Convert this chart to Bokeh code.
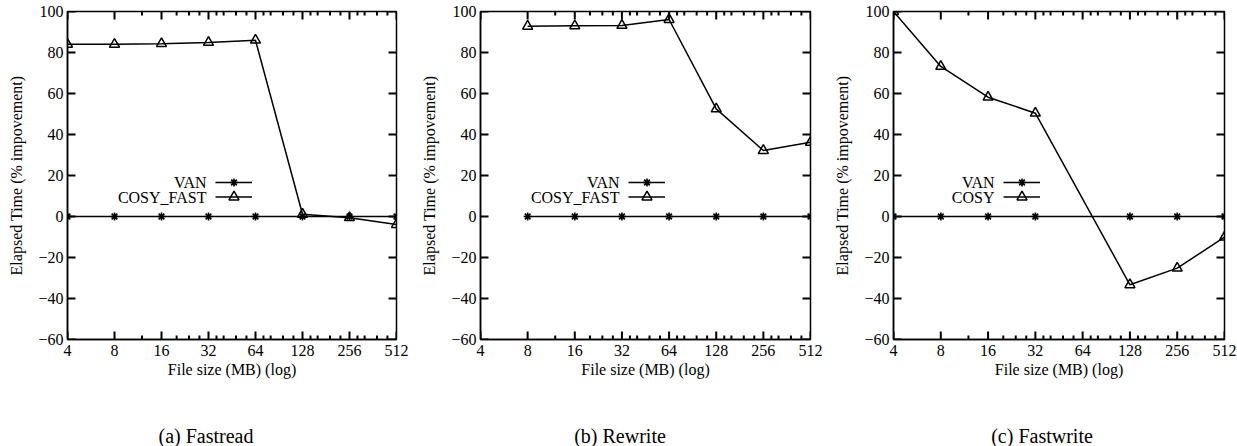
from bokeh.plotting import figure
from bokeh.models import (Range1d, FixedTicker, Legend, LegendItem, Label)
from bokeh.core.properties import value
from bokeh.layouts import row, column
from bokeh.embed import file_html
from bokeh.resources import INLINE

# ---------------- data ----------------
sizes_a = [4, 8, 16, 32, 64, 128, 256, 512]
van_a = [0, 0, 0, 0, 0, 0, 0, 0]
cosy_fast_a = [84.0, 84.0, 84.3, 84.9, 86.0, 1.1, -0.6, -3.9]

sizes_b = [8, 16, 32, 64, 128, 256, 512]
van_b = [0, 0, 0, 0, 0, 0, 0]
cosy_fast_b = [92.8, 93.0, 93.2, 96.1, 52.5, 32.2, 36.2]

sizes_c = [4, 8, 16, 32, 128, 256, 512]
van_c = [0, 0, 0, 0, 0, 0, 0]
cosy_c = [100.0, 73.2, 58.2, 50.4, -33.3, -25.2, -10.1]

x_ticks = [4, 8, 16, 32, 64, 128, 256, 512]
x_tick_labels = ["4", "8", "16", "32", "64", "128", "256", "512"]
x_minor_ticks = [12, 20, 24, 28, 36, 40, 48, 56, 72, 80, 96, 112,
                 144, 160, 192, 224, 288, 320, 384, 448]
y_ticks = [-60, -40, -20, 0, 20, 40, 60, 80, 100]
y_tick_labels = ["\u221260", "\u221240", "\u221220", "0", "20", "40", "60", "80", "100"]

captions = ["(a) Fastread", "(b) Rewrite", "(c) Fastwrite"]

X_MIN, X_MAX = 4, 512
Y_MIN, Y_MAX = -60, 100

x_title = "File size (MB) (log)"
y_title = "Elapsed Time (% impovement)"

FONT = "Liberation Serif"
FS = "16px"

FRAME_H = 328          # plot-area height in px
FRAME_W = 330          # plot-area width in px (approx.)
TICK_MAJOR = 8         # px
TICK_MINOR = 4         # px


def style_axis(ax):
    ax.axis_line_color = "black"
    ax.axis_line_width = 1.5
    ax.major_tick_line_color = None
    ax.minor_tick_line_color = None
    ax.major_tick_in = 0
    ax.major_tick_out = 0
    ax.minor_tick_in = 0
    ax.minor_tick_out = 0
    ax.major_label_text_font = FONT
    ax.major_label_text_font_size = FS
    ax.major_label_text_color = "black"
    ax.axis_label_text_font = FONT
    ax.axis_label_text_font_size = FS
    ax.axis_label_text_font_style = "normal"
    ax.axis_label_text_color = "black"


def make_panel(sizes, van, cosy, cosy_name, width, right_border, text_x, glyph_x):
    p = figure(width=width, height=400, x_axis_type="log",
               x_range=Range1d(X_MIN, X_MAX), y_range=Range1d(Y_MIN, Y_MAX),
               output_backend="svg", toolbar_location=None,
               min_border_left=67, min_border_right=right_border,
               min_border_top=11, min_border_bottom=61)
    p.grid.visible = False
    p.outline_line_color = "black"
    p.outline_line_width = 1.5
    p.background_fill_color = "white"
    p.border_fill_color = "white"

    xa = p.xaxis[0]
    xa.ticker = FixedTicker(ticks=x_ticks, minor_ticks=[])
    xa.major_label_overrides = dict(zip(x_ticks, x_tick_labels))
    style_axis(xa)
    xa.major_label_standoff = 5
    xa.axis_label = x_title
    xa.axis_label_standoff = 2

    ya = p.yaxis[0]
    ya.ticker = FixedTicker(ticks=y_ticks, minor_ticks=[])
    ya.major_label_overrides = dict(zip(y_ticks, y_tick_labels))
    style_axis(ya)
    ya.major_label_standoff = 4
    ya.axis_label = y_title
    ya.axis_label_standoff = 10

    # inward tick marks on all four borders (gnuplot style), lengths in px
    # converted to data units of this frame
    dy_maj = TICK_MAJOR * (Y_MAX - Y_MIN) / FRAME_H
    dy_min = TICK_MINOR * (Y_MAX - Y_MIN) / FRAME_H
    fx = (X_MAX / X_MIN) ** (TICK_MAJOR / FRAME_W)
    n_maj, n_min, n_y = len(x_ticks), len(x_minor_ticks), len(y_ticks)
    tk = dict(line_color="black", line_width=2)
    p.segment(x0=x_ticks, y0=[Y_MIN] * n_maj, x1=x_ticks,
              y1=[Y_MIN + dy_maj] * n_maj, **tk)
    p.segment(x0=x_ticks, y0=[Y_MAX] * n_maj, x1=x_ticks,
              y1=[Y_MAX - dy_maj] * n_maj, **tk)
    p.segment(x0=x_minor_ticks, y0=[Y_MIN] * n_min, x1=x_minor_ticks,
              y1=[Y_MIN + dy_min] * n_min, **tk)
    p.segment(x0=x_minor_ticks, y0=[Y_MAX] * n_min, x1=x_minor_ticks,
              y1=[Y_MAX - dy_min] * n_min, **tk)
    p.segment(x0=[X_MIN] * n_y, y0=y_ticks, x1=[X_MIN * fx] * n_y, y1=y_ticks, **tk)
    p.segment(x0=[X_MAX] * n_y, y0=y_ticks, x1=[X_MAX / fx] * n_y, y1=y_ticks, **tk)

    van_l = p.line(sizes, van, line_color="black", line_width=1.5)
    van_m = p.scatter(sizes, van, marker="asterisk", size=8,
                      line_color="black", line_width=1.6)
    cosy_l = p.line(sizes, cosy, line_color="black", line_width=1.5)
    cosy_m = p.scatter(sizes, cosy, marker="triangle", size=10,
                       line_color="black", line_width=1.5, fill_alpha=0)

    common = dict(glyph_width=37, label_width=0, label_standoff=0, padding=0,
                  margin=0, spacing=0, border_line_color=None,
                  background_fill_alpha=0, label_text_font_size="1px")
    leg1 = Legend(items=[LegendItem(label=value(" "), renderers=[van_l, van_m])],
                  location=(glyph_x, 147.5), glyph_height=20, label_height=20,
                  **common)
    leg2 = Legend(items=[LegendItem(label=value(" "), renderers=[cosy_l, cosy_m])],
                  location=(glyph_x, 130), glyph_height=25, label_height=25,
                  **common)
    p.add_layout(leg1)
    p.add_layout(leg2)

    for txt, yy in (("VAN", 157.5), (cosy_name, 142.5)):
        p.add_layout(Label(x=text_x, y=yy, x_units="screen", y_units="screen",
                           text=txt, text_align="right", text_baseline="middle",
                           text_font=FONT, text_font_size=FS,
                           text_color="black"))
    return p


pa = make_panel(sizes_a, van_a, cosy_fast_a, "COSY_FAST", 413, 17, 139, 148)
pb = make_panel(sizes_b, van_b, cosy_fast_b, "COSY_FAST", 413, 16, 139, 148)
pc = make_panel(sizes_c, van_c, cosy_c, "COSY", 411, 13, 101, 110)

# caption strip underneath the three panels
cap = figure(width=1237, height=46, x_axis_type=None, y_axis_type=None,
             x_range=Range1d(0, 1237), y_range=Range1d(0, 46),
             output_backend="svg", toolbar_location=None,
             min_border=0, outline_line_color=None)
cap.grid.visible = False
for cx, txt in zip((205.5, 619.5, 1041.5), captions):
    cap.add_layout(Label(x=cx, y=11, x_units="screen", y_units="screen",
                         text=txt, text_align="center", text_baseline="middle",
                         text_font=FONT, text_font_size="20px",
                         text_color="black"))

layout = column(row(pa, pb, pc), cap)
open("out.html", "w").write(file_html(layout, INLINE))
